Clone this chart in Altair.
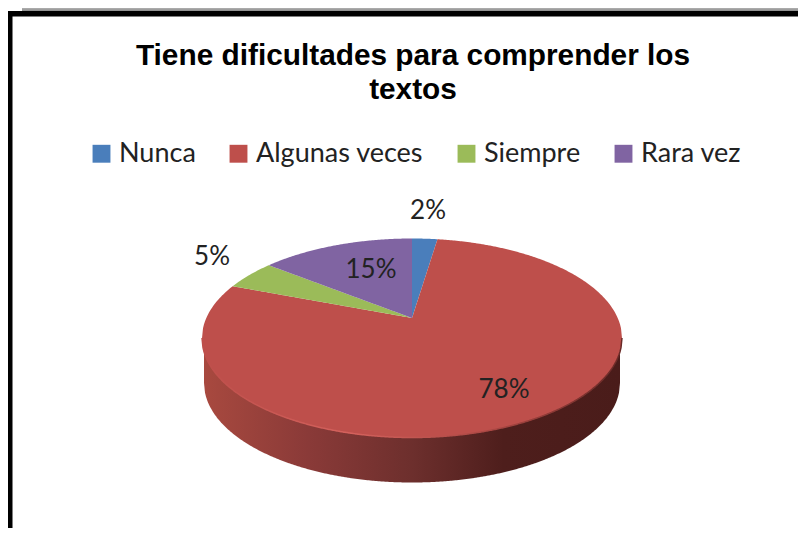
import math
import numpy as np
import pandas as pd
import altair as alt

categories = ["Nunca", "Algunas veces", "Siempre", "Rara vez"]
shares = [2.5, 77.5, 5.0, 15.0]
labels = ["2%", "78%", "5%", "15%"]
colors = ["#4a7ebb", "#be4f4b", "#9bbb59", "#8064a2"]
label_x = [428, 504, 212, 371]
label_y = [211, 390, 257, 270]
title_lines = ["Tiene dificultades para comprender los", "textos"]

# Perspective pie: ellipse outline and a pie centre pushed to the back
CX, CY, RX, RY = 412.0, 338.0, 210.0, 99.5
PX, PY = 412.0, 318.0
K = 0.773
DEPTH = 45.0

def rim(phi):
    t = 2 * math.atan2(K * math.sin(phi / 2), math.cos(phi / 2))
    return CX + RX * math.sin(t), CY - RY * math.cos(t)

rows = []
start = 0.0
for cat, share in zip(categories, shares):
    end = start + share / 100 * 2 * math.pi
    n = max(12, int(share * 12))
    poly = [(PX, PY)] + [rim(start + (end - start) * i / n) for i in range(n + 1)] + [(PX, PY)]
    low, high = min(p[0] for p in poly), max(p[0] for p in poly)
    xs = sorted(set(np.arange(math.ceil(low), high, 1.0).tolist() + [PX, poly[1][0], poly[-2][0], low, high]))
    for x in xs:
        ys = []
        for (x0, y0), (x1, y1) in zip(poly[:-1], poly[1:]):
            if min(x0, x1) - 1e-9 <= x <= max(x0, x1) + 1e-9:
                if abs(x1 - x0) < 1e-9:
                    ys += [y0, y1]
                else:
                    ys.append(y0 + (y1 - y0) * (x - x0) / (x1 - x0))
        if ys:
            rows.append({"serie": cat, "x": x, "y": min(ys), "y2": max(ys)})
    start = end
slices = pd.DataFrame(rows)

wall_x = np.arange(CX - RX + 2, CX + RX - 2 + 0.5, 1.0)
wall = pd.DataFrame({
    "x": wall_x,
    "y": CY,
    "y2": CY + DEPTH + RY * np.sqrt(np.clip(1 - ((wall_x - CX) / (RX - 2)) ** 2, 0, 1)),
})
edge_x = np.arange(CX - RX, CX + RX + 0.5, 1.0)
edge = pd.DataFrame({
    "x": edge_x,
    "y": CY + RY * np.sqrt(np.clip(1 - ((edge_x - CX) / RX) ** 2, 0, 1)),
})
text_df = pd.DataFrame({"x": label_x, "y": label_y, "t": labels})
one = pd.DataFrame({"a": [0]})

W, H = 790, 520
XS = alt.Scale(domain=[8, 8 + W], range=[0, W], nice=False)
YS = alt.Scale(domain=[8, 8 + H], range=[0, H], nice=False)
X = alt.X("x:Q", scale=XS, axis=None)
Y = alt.Y("y:Q", scale=YS, axis=None, stack=None)

band = alt.Chart(one).mark_rect(color=alt.Gradient(
    gradient="linear", x1=0, x2=0, y1=0, y2=1,
    stops=[alt.GradientStop(offset=0, color="#b0b0b0"), alt.GradientStop(offset=1, color="#8c8c8c")],
)).encode(x=alt.value(14), x2=alt.value(W), y=alt.value(0), y2=alt.value(3))
frame_top = alt.Chart(one).mark_rect(color="#000000").encode(
    x=alt.value(0), x2=alt.value(W), y=alt.value(3), y2=alt.value(8.5))
frame_left = alt.Chart(one).mark_rect(color="#000000").encode(
    x=alt.value(0), x2=alt.value(4.5), y=alt.value(3), y2=alt.value(H))

wall_mark = alt.Chart(wall).mark_area(color=alt.Gradient(
    gradient="linear", x1=0, x2=1, y1=0, y2=0,
    stops=[
        alt.GradientStop(offset=0, color="#a8493f"),
        alt.GradientStop(offset=0.25, color="#8a3a38"),
        alt.GradientStop(offset=0.5, color="#6d2f2d"),
        alt.GradientStop(offset=0.72, color="#4e1e1c"),
        alt.GradientStop(offset=1, color="#4a1c1a"),
    ],
)).encode(x=X, y=Y, y2="y2:Q")

pie = alt.Chart(slices).mark_area(strokeWidth=0.5).encode(
    x=X, y=Y, y2="y2:Q",
    color=alt.Color("serie:N", sort=categories,
                    scale=alt.Scale(domain=categories, range=colors),
                    legend=alt.Legend(
                        title=None, orient="none", legendX=80, legendY=132, direction="horizontal",
                        columns=4, columnPadding=29, symbolType="square", symbolSize=320,
                        symbolStrokeWidth=0, labelFont="Lato", labelFontSize=27, labelColor="#222222",
                        labelOffset=4, labelLimit=300,
                    )),
)

rim_line = alt.Chart(edge).mark_line(strokeWidth=1.5, color=alt.Gradient(
    gradient="linear", x1=0, x2=1, y1=0, y2=0,
    stops=[
        alt.GradientStop(offset=0, color="#be4f4b"),
        alt.GradientStop(offset=0.35, color="#d5625d"),
        alt.GradientStop(offset=0.7, color="#a84642"),
        alt.GradientStop(offset=1, color="#6a2a27"),
    ],
)).encode(x=X, y=alt.Y("y:Q", scale=YS, axis=None))

text = alt.Chart(text_df).mark_text(font="Lato", fontSize=26, color="#222222", baseline="middle").encode(
    x=X, y=alt.Y("y:Q", scale=YS, axis=None), text="t:N")

chart = alt.layer(band, frame_top, frame_left, wall_mark, pie, rim_line, text).properties(
    width=W, height=H, padding=0, autosize=alt.AutoSizeParams(type="none"),
    title=alt.TitleParams(
        text=title_lines, font="Liberation Sans", fontSize=29.8, fontWeight="bold", color="#000000",
        lineHeight=34.5, anchor="middle", baseline="top", offset=-97, dx=10,
    ),
).configure_view(stroke=None)

chart.save("out.html", embed_options={"renderer": "svg", "actions": False})
